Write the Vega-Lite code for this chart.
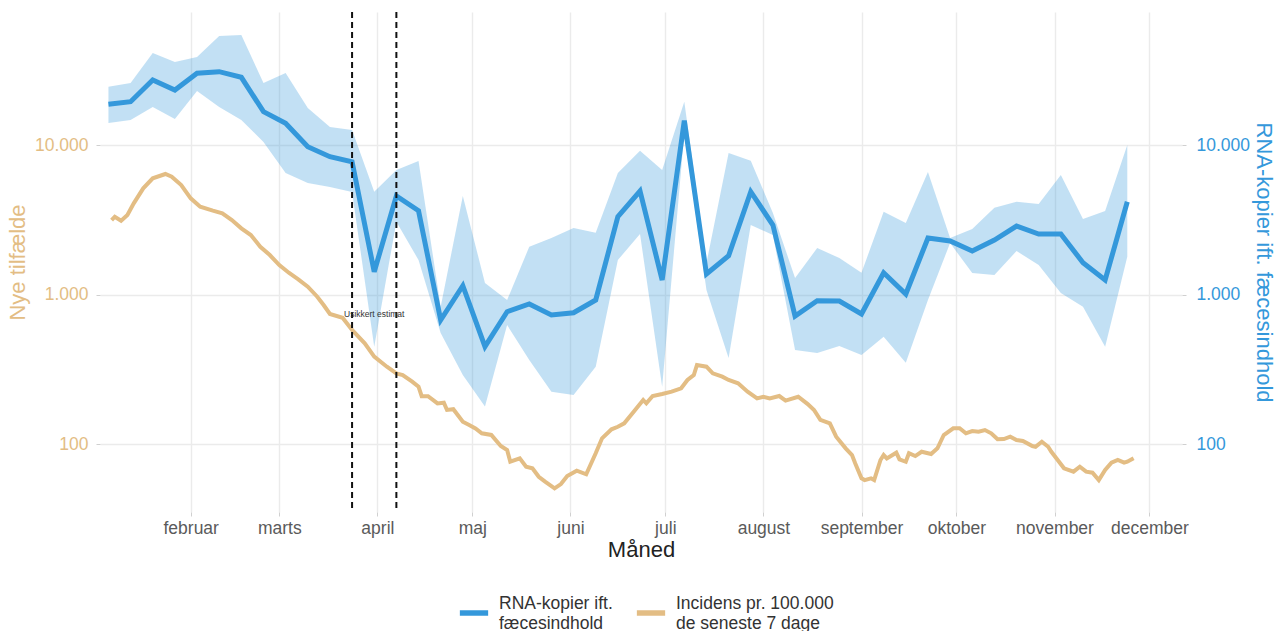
{
  "$schema": "https://vega.github.io/schema/vega-lite/v6.json",
  "width": 1082,
  "height": 500,
  "autosize": {"type": "none"},
  "padding": {"left": 100, "top": 12, "right": 98, "bottom": 119},
  "config": {
    "font": "Liberation Sans",
    "view": {"stroke": null},
    "axis": {"gridColor": "#EBEBEB", "gridWidth": 1.4, "domain": false, "tickColor": "#D0D0D0", "tickSize": 4, "labelFontSize": 17.5, "titleFontSize": 22, "titleFontWeight": "normal"}
  },
  "datasets": {
    "rna": [
      {"date": "2021-01-06", "v": 18710, "lo": 14030, "hi": 24550},
      {"date": "2021-01-13", "v": 19480, "lo": 14700, "hi": 25980},
      {"date": "2021-01-20", "v": 27210, "lo": 17960, "hi": 41260},
      {"date": "2021-01-27", "v": 23330, "lo": 14930, "hi": 35920},
      {"date": "2021-02-03", "v": 30170, "lo": 22970, "hi": 38790},
      {"date": "2021-02-10", "v": 30930, "lo": 17960, "hi": 53590},
      {"date": "2021-02-17", "v": 28370, "lo": 14700, "hi": 54420},
      {"date": "2021-02-24", "v": 16700, "lo": 10470, "hi": 25980},
      {"date": "2021-03-03", "v": 13970, "lo": 6496, "hi": 30310},
      {"date": "2021-03-10", "v": 9740, "lo": 5568, "hi": 17680},
      {"date": "2021-03-17", "v": 8350, "lo": 5236, "hi": 13200},
      {"date": "2021-03-24", "v": 7730, "lo": 4848, "hi": 12600},
      {"date": "2021-03-31", "v": 1420, "lo": 448, "hi": 4870},
      {"date": "2021-04-07", "v": 4560, "lo": 3069, "hi": 6805},
      {"date": "2021-04-14", "v": 3635, "lo": 1701, "hi": 7815},
      {"date": "2021-04-21", "v": 675, "lo": 553, "hi": 829},
      {"date": "2021-04-28", "v": 1145, "lo": 289, "hi": 4560},
      {"date": "2021-05-05", "v": 448, "lo": 178, "hi": 1194},
      {"date": "2021-05-12", "v": 767, "lo": 625, "hi": 919},
      {"date": "2021-05-19", "v": 864, "lo": 365, "hi": 2087},
      {"date": "2021-05-26", "v": 729, "lo": 224, "hi": 2387},
      {"date": "2021-06-02", "v": 755, "lo": 213, "hi": 2784},
      {"date": "2021-06-09", "v": 919, "lo": 329, "hi": 2590},
      {"date": "2021-06-16", "v": 3315, "lo": 1701, "hi": 6496},
      {"date": "2021-06-23", "v": 4925, "lo": 2539, "hi": 9160},
      {"date": "2021-06-30", "v": 1250, "lo": 242, "hi": 6805},
      {"date": "2021-07-07", "v": 14540, "lo": 12030, "hi": 19480},
      {"date": "2021-07-14", "v": 1371, "lo": 1072, "hi": 1624},
      {"date": "2021-07-21", "v": 1818, "lo": 376, "hi": 8842},
      {"date": "2021-07-28", "v": 4870, "lo": 2916, "hi": 7852},
      {"date": "2021-08-04", "v": 2916, "lo": 2500, "hi": 3510},
      {"date": "2021-08-11", "v": 718, "lo": 425, "hi": 1290},
      {"date": "2021-08-18", "v": 909, "lo": 406, "hi": 2046},
      {"date": "2021-08-25", "v": 905, "lo": 452, "hi": 1754},
      {"date": "2021-09-01", "v": 741, "lo": 394, "hi": 1399},
      {"date": "2021-09-08", "v": 1399, "lo": 522, "hi": 3578},
      {"date": "2021-09-15", "v": 1008, "lo": 350, "hi": 3008},
      {"date": "2021-09-22", "v": 2387, "lo": 919, "hi": 6597},
      {"date": "2021-09-29", "v": 2280, "lo": 2210, "hi": 2387},
      {"date": "2021-10-06", "v": 1954, "lo": 1392, "hi": 2743},
      {"date": "2021-10-13", "v": 2315, "lo": 1350, "hi": 3807},
      {"date": "2021-10-20", "v": 2872, "lo": 1954, "hi": 4176},
      {"date": "2021-10-27", "v": 2539, "lo": 1575, "hi": 4031},
      {"date": "2021-11-03", "v": 2539, "lo": 1023, "hi": 6300},
      {"date": "2021-11-10", "v": 1632, "lo": 829, "hi": 3199},
      {"date": "2021-11-17", "v": 1250, "lo": 448, "hi": 3617},
      {"date": "2021-11-24", "v": 4176, "lo": 1789, "hi": 10000}
    ],
    "inc": [
      {"date": "2021-01-07", "v": 3150}, {"date": "2021-01-08", "v": 3315}, {"date": "2021-01-10", "v": 3116},
      {"date": "2021-01-12", "v": 3402}, {"date": "2021-01-14", "v": 4074}, {"date": "2021-01-17", "v": 5133},
      {"date": "2021-01-20", "v": 5989}, {"date": "2021-01-24", "v": 6398}, {"date": "2021-01-26", "v": 6137},
      {"date": "2021-01-29", "v": 5400}, {"date": "2021-02-01", "v": 4400}, {"date": "2021-02-04", "v": 3867},
      {"date": "2021-02-08", "v": 3636}, {"date": "2021-02-11", "v": 3492}, {"date": "2021-02-14", "v": 3150},
      {"date": "2021-02-17", "v": 2772}, {"date": "2021-02-20", "v": 2500}, {"date": "2021-02-23", "v": 2087},
      {"date": "2021-02-26", "v": 1837}, {"date": "2021-03-01", "v": 1575}, {"date": "2021-03-04", "v": 1399},
      {"date": "2021-03-07", "v": 1264}, {"date": "2021-03-10", "v": 1128}, {"date": "2021-03-13", "v": 967},
      {"date": "2021-03-15", "v": 851}, {"date": "2021-03-17", "v": 741}, {"date": "2021-03-21", "v": 699},
      {"date": "2021-03-24", "v": 579}, {"date": "2021-03-28", "v": 472}, {"date": "2021-03-31", "v": 384},
      {"date": "2021-04-04", "v": 329}, {"date": "2021-04-07", "v": 297}, {"date": "2021-04-09", "v": 289},
      {"date": "2021-04-12", "v": 261}, {"date": "2021-04-14", "v": 242}, {"date": "2021-04-15", "v": 209},
      {"date": "2021-04-17", "v": 209}, {"date": "2021-04-20", "v": 187}, {"date": "2021-04-22", "v": 189},
      {"date": "2021-04-23", "v": 169}, {"date": "2021-04-25", "v": 171}, {"date": "2021-04-28", "v": 141},
      {"date": "2021-04-30", "v": 134}, {"date": "2021-05-02", "v": 127}, {"date": "2021-05-04", "v": 118},
      {"date": "2021-05-07", "v": 115}, {"date": "2021-05-10", "v": 97}, {"date": "2021-05-12", "v": 91.2},
      {"date": "2021-05-13", "v": 76.1}, {"date": "2021-05-16", "v": 80.2}, {"date": "2021-05-18", "v": 70.5},
      {"date": "2021-05-20", "v": 68.8}, {"date": "2021-05-22", "v": 60.4}, {"date": "2021-05-24", "v": 56},
      {"date": "2021-05-27", "v": 50.5}, {"date": "2021-05-29", "v": 54}, {"date": "2021-05-31", "v": 61.1},
      {"date": "2021-06-03", "v": 66.3}, {"date": "2021-06-06", "v": 62.7}, {"date": "2021-06-09", "v": 86.7},
      {"date": "2021-06-11", "v": 109.2}, {"date": "2021-06-14", "v": 125.4}, {"date": "2021-06-16", "v": 130.5},
      {"date": "2021-06-18", "v": 137.5}, {"date": "2021-06-21", "v": 164.4}, {"date": "2021-06-24", "v": 197},
      {"date": "2021-06-25", "v": 187}, {"date": "2021-06-27", "v": 209.4}, {"date": "2021-06-30", "v": 216},
      {"date": "2021-07-03", "v": 224}, {"date": "2021-07-06", "v": 236}, {"date": "2021-07-08", "v": 268},
      {"date": "2021-07-10", "v": 289}, {"date": "2021-07-11", "v": 338}, {"date": "2021-07-14", "v": 329},
      {"date": "2021-07-16", "v": 297}, {"date": "2021-07-19", "v": 282}, {"date": "2021-07-21", "v": 268},
      {"date": "2021-07-24", "v": 255}, {"date": "2021-07-27", "v": 224}, {"date": "2021-07-30", "v": 202},
      {"date": "2021-08-01", "v": 207}, {"date": "2021-08-03", "v": 202}, {"date": "2021-08-06", "v": 209.4},
      {"date": "2021-08-08", "v": 195}, {"date": "2021-08-12", "v": 207}, {"date": "2021-08-15", "v": 185},
      {"date": "2021-08-17", "v": 169}, {"date": "2021-08-19", "v": 145}, {"date": "2021-08-22", "v": 137.5},
      {"date": "2021-08-24", "v": 111.9}, {"date": "2021-08-27", "v": 93.6}, {"date": "2021-08-29", "v": 84.4},
      {"date": "2021-08-30", "v": 74.3}, {"date": "2021-09-01", "v": 59}, {"date": "2021-09-02", "v": 57.4},
      {"date": "2021-09-04", "v": 59}, {"date": "2021-09-05", "v": 57.4}, {"date": "2021-09-07", "v": 78.2},
      {"date": "2021-09-08", "v": 84.4}, {"date": "2021-09-09", "v": 80.2}, {"date": "2021-09-12", "v": 87.5},
      {"date": "2021-09-13", "v": 79}, {"date": "2021-09-15", "v": 76.1}, {"date": "2021-09-16", "v": 86.7},
      {"date": "2021-09-18", "v": 83.1}, {"date": "2021-09-20", "v": 88.8}, {"date": "2021-09-23", "v": 85.7},
      {"date": "2021-09-25", "v": 93.6}, {"date": "2021-09-27", "v": 114.9}, {"date": "2021-09-30", "v": 127.4},
      {"date": "2021-10-02", "v": 127.4}, {"date": "2021-10-04", "v": 117.9}, {"date": "2021-10-06", "v": 122.2},
      {"date": "2021-10-08", "v": 120.8}, {"date": "2021-10-10", "v": 124}, {"date": "2021-10-12", "v": 117.9},
      {"date": "2021-10-14", "v": 107.5}, {"date": "2021-10-16", "v": 108}, {"date": "2021-10-18", "v": 111.9},
      {"date": "2021-10-20", "v": 106.4}, {"date": "2021-10-22", "v": 104.7}, {"date": "2021-10-25", "v": 96.9},
      {"date": "2021-10-26", "v": 95.9}, {"date": "2021-10-28", "v": 103.6}, {"date": "2021-10-30", "v": 95.9},
      {"date": "2021-10-31", "v": 88.8}, {"date": "2021-11-02", "v": 78.2}, {"date": "2021-11-04", "v": 68.8},
      {"date": "2021-11-07", "v": 65.3}, {"date": "2021-11-09", "v": 70.5}, {"date": "2021-11-11", "v": 65.3},
      {"date": "2021-11-13", "v": 64.3}, {"date": "2021-11-15", "v": 57.4}, {"date": "2021-11-17", "v": 67},
      {"date": "2021-11-19", "v": 75}, {"date": "2021-11-21", "v": 78.2}, {"date": "2021-11-23", "v": 75},
      {"date": "2021-11-24", "v": 76.1}, {"date": "2021-11-26", "v": 80.2}
    ],
    "vlines": [{"date": "2021-03-24"}, {"date": "2021-04-07"}],
    "note": [{"date": "2021-03-31", "v": 745, "label": "Usikkert estimat"}]
  },
  "encoding": {
    "x": {
      "field": "date", "type": "temporal",
      "scale": {"type": "utc", "domain": [{"year": 2021, "month": 1, "date": 3, "hours": 8, "utc": true}, {"year": 2021, "month": 12, "date": 11, "hours": 7, "utc": true}]},
      "axis": {
        "title": "Måned", "titleColor": "#222222", "titlePadding": 3,
        "labelColor": "#5A5A5A", "labelPadding": 3,
        "tickCount": {"interval": "month", "step": 1},
        "labelExpr": "['januar','februar','marts','april','maj','juni','juli','august','september','oktober','november','december'][utcmonth(datum.value)]",
        "labelOverlap": false, "labelFlush": false, "labelBound": false
      }
    }
  },
  "layer": [
    {
      "data": {"name": "rna"},
      "mark": {"type": "area", "color": "#3498DB", "opacity": 0.3},
      "encoding": {
        "y": {"field": "lo", "type": "quantitative", "scale": {"type": "log", "domain": [35.1, 77560], "nice": false}, "axis": null},
        "y2": {"field": "hi"}
      }
    },
    {
      "data": {"name": "rna"},
      "mark": {"type": "line", "strokeWidth": 5, "strokeJoin": "miter"},
      "encoding": {
        "y": {"field": "v", "type": "quantitative", "scale": {"type": "log", "domain": [35.1, 77560], "nice": false},
          "axis": {"orient": "right", "title": "RNA-kopier ift. fæcesindhold", "titleColor": "#3498DB", "labelColor": "#3498DB", "values": [100, 1000, 10000], "grid": false, "labelPadding": 10, "titlePadding": 2,
            "labelExpr": "replace(format(datum.value, ','), ',', '.')"}},
        "color": {"datum": "RNA", "type": "nominal",
          "scale": {"domain": ["RNA", "Inc"], "range": ["#3498DB", "#E3BD84"]},
          "legend": {"title": null, "orient": "none", "legendX": 357, "legendY": 584, "direction": "horizontal", "symbolType": "stroke", "symbolStrokeWidth": 5.5, "symbolSize": 800, "labelFontSize": 17.5, "labelColor": "#333333", "labelLimit": 400, "columnPadding": 12, "labelOffset": 8, "labelBaseline": "bottom",
            "labelExpr": "datum.label == 'RNA' ? ['RNA-kopier ift.', 'fæcesindhold'] : ['Incidens pr. 100.000', 'de seneste 7 dage']"}}
      }
    },
    {
      "data": {"name": "inc"},
      "mark": {"type": "line", "strokeWidth": 4},
      "encoding": {
        "y": {"field": "v", "type": "quantitative", "scale": {"type": "log", "domain": [35.1, 77560], "nice": false},
          "axis": {"orient": "left", "title": "Nye tilfælde", "titleColor": "#E3BD84", "labelColor": "#E3BD84", "values": [100, 1000, 10000], "grid": true, "labelPadding": 8, "titlePadding": 5,
            "labelExpr": "replace(format(datum.value, ','), ',', '.')"}},
        "color": {"datum": "Inc", "type": "nominal"}
      }
    },
    {
      "data": {"name": "vlines"},
      "mark": {"type": "rule", "color": "#111111", "strokeWidth": 2, "strokeDash": [6, 4]},
      "encoding": {}
    },
    {
      "data": {"name": "note"},
      "mark": {"type": "text", "fontSize": 8.5, "color": "#333333"},
      "encoding": {
        "y": {"field": "v", "type": "quantitative", "scale": {"type": "log", "domain": [35.1, 77560], "nice": false}, "axis": null},
        "text": {"field": "label"}
      }
    }
  ],
  "resolve": {"scale": {"y": "independent"}}
}
